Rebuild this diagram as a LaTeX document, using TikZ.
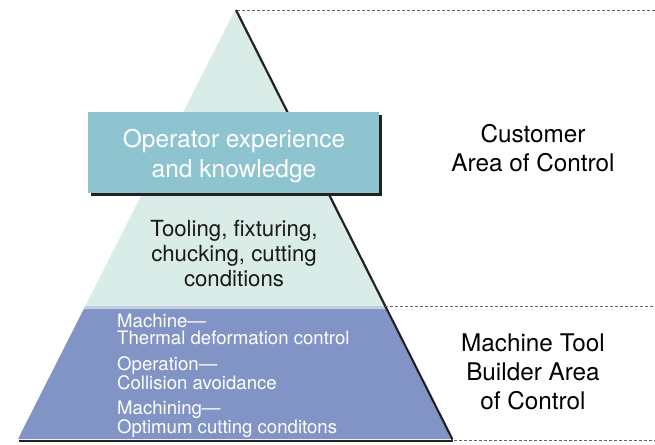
\documentclass[tikz,border=0pt]{standalone}
\usepackage{fontspec}
\setmainfont{TeX Gyre Heros}
\definecolor{mint}{HTML}{D9ECE8}
\definecolor{boxblue}{HTML}{8EC4CF}
\definecolor{lavender}{HTML}{8294C5}
\definecolor{strip}{HTML}{C5CCE5}
\definecolor{edge}{HTML}{222222}
\definecolor{dashgray}{HTML}{666666}
\tikzset{
    levelline/.style={dashgray, line width=0.8pt, dash pattern=on 3pt off 2pt},
    bigtext/.style={align=center, inner sep=0pt, font=\fontsize{24.5}{29.5}\selectfont},
}

\begin{document}
\begin{tikzpicture}[x=1pt, y=-1pt]
    \useasboundingbox (0,0) rectangle (655,444);
    \coordinate (A) at (235,10);
    \coordinate (L) at (18,439);
    \coordinate (R) at (451,439);
    \coordinate (P) at (85.3,306);
    \coordinate (Q) at (384,306);
    \coordinate (P1) at (83.8,309);
    \coordinate (Q1) at (385.5,309);
    \coordinate (E) at (655,10);
    \coordinate (F) at (655,306);
    \coordinate (G) at (655,440);
	\fill [mint] (A) -- (Q) -- (P) -- cycle;
	\fill [lavender] (P) -- (Q) -- (R) -- (L) -- cycle;
	\fill [strip] (P) -- (Q) -- (Q1) -- (P1) -- cycle;
	\draw [edge, line width=2.2pt] (236,10) -- (452.5,439.5);
	\draw [edge, line width=2pt] (19,440.5) -- (453,440.5);
	\draw [levelline] (237,10) -- (E);
	\draw [levelline] (385,306) -- (F);
	\draw [levelline] (454,440) -- (G);
	\fill [edge] (90.5,114.5) rectangle (381.5,195.5);
	\fill [boxblue] (88,112) rectangle (379,193);
	\node [bigtext, white] (operator) at (234,156) {Operator experience\\and knowledge};
	\node [align=center, inner sep=0pt, text=black!90, font=\fontsize{22.2}{25}\selectfont] (tooling) at (234,254) {Tooling, fixturing,\\chucking, cutting\\conditions};
	\node [align=left, inner sep=0pt, white, anchor=north west, font=\fontsize{18.6}{17.5}\selectfont] (builder) at (117,313.5) {Machine---\\Thermal deformation control\\[8pt]Operation---\\Collision avoidance\\[8pt]Machining---\\Optimum cutting conditons};
	\node [bigtext, font=\fontsize{24.3}{28.5}\selectfont] (customer) at (533,148) {Customer\\Area of Control};
	\node [bigtext, font=\fontsize{24.3}{28.8}\selectfont] (toolbuilder) at (533,372) {Machine Tool\\Builder Area\\of Control};
\end{tikzpicture}
\end{document}
